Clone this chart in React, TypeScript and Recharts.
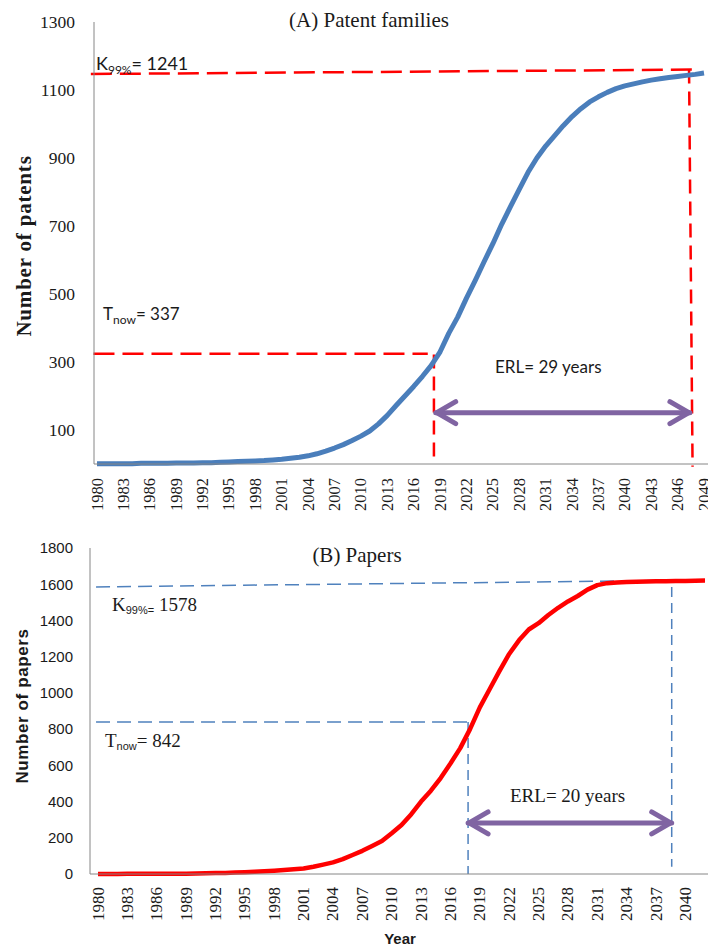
import { LineChart, Line, XAxis, YAxis, ReferenceLine } from "recharts";

const SERIF = "Liberation Serif, Times New Roman, serif";
const SANS = "Lato, Liberation Sans, sans-serif";
const AXIS_SANS = "Liberation Sans, Arial, sans-serif";

// (A) patent families, cumulative
const patentYears = [
  1980, 1981, 1982, 1983, 1984, 1985, 1986, 1987, 1988, 1989,
  1990, 1991, 1992, 1993, 1994, 1995, 1996, 1997, 1998, 1999,
  2000, 2001, 2002, 2003, 2004, 2005, 2006, 2007, 2008, 2009,
  2010, 2011, 2012, 2013, 2014, 2015, 2016, 2017, 2018, 2019,
  2020, 2021, 2022, 2023, 2024, 2025, 2026, 2027, 2028, 2029,
  2030, 2031, 2032, 2033, 2034, 2035, 2036, 2037, 2038, 2039,
  2040, 2041, 2042, 2043, 2044, 2045, 2046, 2047, 2048, 2049,
];
const patentCounts = [
  1, 1, 1, 1, 1, 2, 2, 2, 2, 3,
  3, 3, 4, 4, 5, 6, 7, 8, 9, 10,
  12, 14, 17, 20, 24, 30, 38, 47, 57, 69,
  82, 97, 118, 143, 172, 200, 228, 258, 290, 330,
  385, 432, 488, 540, 595, 648, 705, 757, 808, 858,
  900, 935, 965, 995, 1022, 1045, 1065, 1080, 1093, 1104,
  1112, 1118, 1124, 1129, 1133, 1137, 1140, 1143, 1146, 1150,
];
const patentTicksX = [
  1980, 1983, 1986, 1989, 1992, 1995, 1998, 2001, 2004, 2007, 2010, 2013,
  2016, 2019, 2022, 2025, 2028, 2031, 2034, 2037, 2040, 2043, 2046, 2049,
];
const patentTicksY = [100, 300, 500, 700, 900, 1100, 1300];
// dashed guides as [x1, y1, x2, y2]: K99% level, Tnow level, now, end of life
const patentGuides = [
  [1979.3, 1147, 2047.7, 1160],
  [1979.6, 324, 2017.6, 324],
  [2018.3, 322, 2018.3, 0],
  [2047.3, 1160, 2047.7, -8],
];
const patentErl = [2018.5, 2047.4, 151];

// (B) papers, cumulative
const paperYears = [
  1980, 1981, 1982, 1983, 1984, 1985, 1986, 1987, 1988, 1989,
  1990, 1991, 1992, 1993, 1994, 1995, 1996, 1997, 1998, 1999,
  2000, 2001, 2002, 2003, 2004, 2005, 2006, 2007, 2008, 2009,
  2010, 2011, 2012, 2013, 2014, 2015, 2016, 2017, 2018, 2019,
  2020, 2021, 2022, 2023, 2024, 2025, 2026, 2027, 2028, 2029,
  2030, 2031, 2032, 2033, 2034, 2035, 2036, 2037, 2038, 2039,
  2040, 2041, 2042,
];
const paperCounts = [
  0, 0, 0, 1, 1, 1, 1, 2, 2, 2,
  3, 4, 5, 6, 8, 10, 12, 15, 18, 22,
  26, 30, 40, 52, 64, 82, 105, 128, 155, 182,
  225, 270, 330, 400, 460, 530, 610, 695, 800, 920,
  1020, 1120, 1215, 1290, 1350, 1385, 1430, 1470, 1505, 1535,
  1570, 1595, 1606, 1610, 1612, 1614, 1615, 1616, 1617, 1618,
  1618, 1619, 1620,
];
const paperTicksX = [
  1980, 1983, 1986, 1989, 1992, 1995, 1998, 2001, 2004, 2007, 2010,
  2013, 2016, 2019, 2022, 2025, 2028, 2031, 2034, 2037, 2040,
];
const paperTicksY = [0, 200, 400, 600, 800, 1000, 1200, 1400, 1600, 1800];
const paperGuides = [
  [1979.8, 1585, 2041.5, 1623],
  [1979.8, 839, 2017.8, 839],
  [2017.8, 839, 2017.8, 0],
  [2038.6, 1585, 2038.6, 40],
];
const paperErl = [2017.8, 2038.6, 282];

const patentData = patentYears.map((year, i) => ({ year, value: patentCounts[i] }));
const paperData = paperYears.map((year, i) => ({ year, value: paperCounts[i] }));

const yearTick = (size: number) => (props: any) => {
  const { x, y, payload } = props;
  return (
    <text
      x={x}
      y={y}
      transform={`rotate(-90 ${x} ${y})`}
      textAnchor="end"
      dominantBaseline="central"
      fontFamily={SERIF}
      fontSize={size}
      fill="#1a1a1a"
    >
      {payload.value}
    </text>
  );
};

const DoubleArrow = (props: any) => {
  const { x1, y1, x2, y2 } = props;
  return (
    <g stroke="#8064A2" strokeWidth={5} strokeLinecap="round" strokeLinejoin="round" fill="none">
      <line x1={x1} y1={y1} x2={x2} y2={y2} />
      <polyline points={`${x1 + 20},${y1 - 11} ${x1 + 1},${y1} ${x1 + 20},${y1 + 11}`} />
      <polyline points={`${x2 - 20},${y2 - 11} ${x2 - 1},${y2} ${x2 - 20},${y2 + 11}`} />
    </g>
  );
};

export default function App() {
  return (
    <div style={{ position: "absolute", left: 0, top: 0, width: 708, height: 946, background: "#fff", overflow: "hidden" }}>
      <div style={{ position: "absolute", left: 0, top: 0 }}>
        <LineChart width={708} height={520} data={patentData} margin={{ top: 22, right: 0, bottom: 0, left: 0 }}>
          <XAxis
            dataKey="year"
            type="number"
            domain={[1980, 2049]}
            ticks={patentTicksX}
            interval={0}
            padding={{ left: 3, right: 4 }}
            height={56}
            tickSize={0}
            tickMargin={14}
            tickLine={false}
            axisLine={{ stroke: "#868686" }}
            tick={yearTick(16.5)}
          />
          <YAxis
            type="number"
            domain={[0, 1300]}
            ticks={patentTicksY}
            width={94}
            tickSize={0}
            tickMargin={19}
            tickLine={false}
            axisLine={{ stroke: "#868686" }}
            tick={{ fill: "#1a1a1a", fontSize: 17.5, fontFamily: SERIF }}
          />
          {patentGuides.map((g, i) => (
            <ReferenceLine
              key={i}
              segment={[{ x: g[0], y: g[1] }, { x: g[2], y: g[3] }]}
              stroke="#FF0000"
              strokeWidth={2.5}
              strokeDasharray={i < 2 ? "21 8" : "14 8"}
              ifOverflow="visible"
            />
          ))}
          <ReferenceLine
            segment={[{ x: patentErl[0], y: patentErl[2] }, { x: patentErl[1], y: patentErl[2] }]}
            ifOverflow="visible"
            shape={DoubleArrow}
          />
          <Line
            dataKey="value"
            type="linear"
            stroke="#4A7EBB"
            strokeWidth={5}
            strokeLinejoin="round"
            dot={false}
            isAnimationActive={false}
          />
        </LineChart>
      </div>

      <div style={{ position: "absolute", left: 0, top: 530 }}>
        <LineChart width={708} height={416} data={paperData} margin={{ top: 18, right: 0, bottom: 0, left: 0 }}>
          <XAxis
            dataKey="year"
            type="number"
            domain={[1980, 2042]}
            ticks={paperTicksX}
            interval={0}
            padding={{ left: 8, right: 3 }}
            height={72}
            tickSize={0}
            tickMargin={13}
            tickLine={false}
            axisLine={{ stroke: "#868686" }}
            tick={yearTick(17)}
          />
          <YAxis
            type="number"
            domain={[0, 1800]}
            ticks={paperTicksY}
            width={90}
            tickSize={0}
            tickMargin={17}
            tickLine={false}
            axisLine={{ stroke: "#868686" }}
            tick={{ fill: "#1a1a1a", fontSize: 15, fontFamily: AXIS_SANS }}
          />
          {paperGuides.map((g, i) => (
            <ReferenceLine
              key={i}
              segment={[{ x: g[0], y: g[1] }, { x: g[2], y: g[3] }]}
              stroke="#4F81BD"
              strokeWidth={1.5}
              strokeDasharray={i < 2 ? "14 7" : "10 6"}
              ifOverflow="visible"
            />
          ))}
          <ReferenceLine
            segment={[{ x: paperErl[0], y: paperErl[2] }, { x: paperErl[1], y: paperErl[2] }]}
            ifOverflow="visible"
            shape={DoubleArrow}
          />
          <Line
            dataKey="value"
            type="linear"
            stroke="#FF0000"
            strokeWidth={4.5}
            strokeLinejoin="round"
            dot={false}
            isAnimationActive={false}
          />
        </LineChart>
      </div>

      <svg width={708} height={946} style={{ position: "absolute", left: 0, top: 0, pointerEvents: "none" }}>
        <text x={369} y={27} textAnchor="middle" fontFamily={SERIF} fontSize={21} fill="#1a1a1a">
          (A) Patent families
        </text>
        <text x={96} y={70} fontFamily={SANS} fontSize={18} fill="#1a1a1a">
          K<tspan fontSize={12} dy={4}>99%</tspan>
          <tspan dy={-4}>=  1241</tspan>
        </text>
        <text x={103} y={320} fontFamily={SANS} fontSize={17} fill="#1a1a1a">
          T<tspan fontSize={12} dy={4}>now</tspan>
          <tspan dy={-4}>= 337</tspan>
        </text>
        <text x={495} y={373} fontFamily={SANS} fontSize={17} fill="#1a1a1a">
          ERL= 29 years
        </text>
        <text
          x={24}
          y={246}
          transform="rotate(-90 24 246)"
          textAnchor="middle"
          dominantBaseline="central"
          fontFamily={SERIF}
          fontWeight="bold"
          fontSize={21}
          letterSpacing={0.8}
          fill="#1a1a1a"
        >
          Number of patents
        </text>

        <text x={357} y={562} textAnchor="middle" fontFamily={SERIF} fontSize={21} fill="#1a1a1a">
          (B) Papers
        </text>
        <text x={112} y={611} fontFamily={SERIF} fontSize={19} fill="#1a1a1a">
          K<tspan fontFamily={AXIS_SANS} fontSize={11} dy={3}>99%=</tspan>
          <tspan dy={-3}> 1578</tspan>
        </text>
        <text x={105} y={747} fontFamily={SERIF} fontSize={19} fill="#1a1a1a">
          T<tspan fontFamily={AXIS_SANS} fontSize={11} dy={3}>now</tspan>
          <tspan dy={-3}>= 842</tspan>
        </text>
        <text x={510} y={802} fontFamily={SERIF} fontSize={19} fill="#1a1a1a">
          ERL= 20 years
        </text>
        <text
          x={22}
          y={706}
          transform="rotate(-90 22 706)"
          textAnchor="middle"
          dominantBaseline="central"
          fontFamily={AXIS_SANS}
          fontWeight="bold"
          fontSize={17}
          letterSpacing={0.6}
          fill="#1a1a1a"
        >
          Number of papers
        </text>
        <text x={400} y={944} textAnchor="middle" fontFamily={AXIS_SANS} fontWeight="bold" fontSize={15} fill="#1a1a1a">
          Year
        </text>
      </svg>
    </div>
  );
}
